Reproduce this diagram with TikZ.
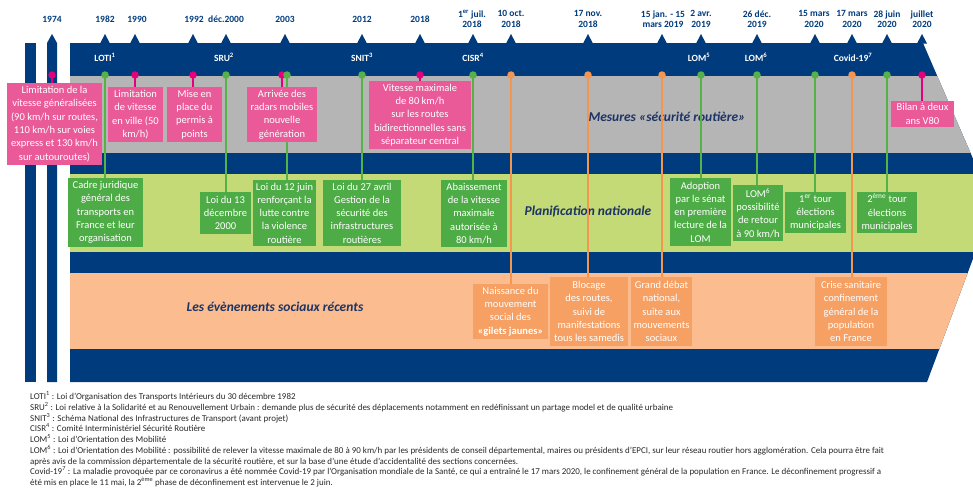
\documentclass[tikz,border=0pt]{standalone}
\usepackage{fontspec}
\setmainfont{Carlito}
\setlength{\lineskiplimit}{-5pt}

\definecolor{navy}{RGB}{0,59,125}
\definecolor{titlenavy}{RGB}{28,52,102}
\definecolor{bandgrey}{RGB}{181,181,181}
\definecolor{bandgreen}{RGB}{196,218,118}
\definecolor{bandorange}{RGB}{251,189,143}
\definecolor{boxpink}{RGB}{234,90,152}
\definecolor{pinpink}{RGB}{228,0,124}
\definecolor{boxgreen}{RGB}{78,172,70}
\definecolor{pingreen}{RGB}{84,178,70}
\definecolor{boxorange}{RGB}{246,160,100}
\definecolor{pinorange}{RGB}{244,150,80}
\definecolor{notegrey}{RGB}{40,40,40}

\tikzset{
  evbox/.style={text=white, align=center, inner xsep=1.5pt, inner ysep=1pt,
    font=\fontsize{10.5}{13.3}\selectfont},
  pinkbox/.style={evbox, fill=boxpink},
  greenbox/.style={evbox, fill=boxgreen},
  orangebox/.style={evbox, fill=boxorange},
  evpin/.style={circle, fill=#1, inner sep=0pt, minimum size=7.5pt},
  link/.style={draw=#1, line width=1.5pt},
  datelbl/.style={text=navy, align=center, font=\fontsize{9.5}{10.5}\selectfont\bfseries},
  bandlbl/.style={text=white, font=\fontsize{9.5}{10}\selectfont\bfseries},
  bandtitle/.style={text=titlenavy, font=\fontsize{13.5}{15}\selectfont\bfseries\itshape},
  notes/.style={align=left, inner sep=0pt, text=notegrey,
    font=\fontsize{8.95}{10.75}\selectfont}
}

\begin{document}
\begin{tikzpicture}[x=1pt,y=-1pt]
  \useasboundingbox (0,0) rectangle (973,490);
  \clip (0,0) rectangle (973,490);
  % left bars
  \fill[navy] (25,43) rectangle (36,382);
  \fill[navy] (47,382) -- (47,43) -- (52,34) -- (57,43) -- (57,382) -- cycle;
  % chevron and its bands
  \fill[navy] (70,43) -- (923,43) -- (993,205) -- (927,382) -- (70,382) -- cycle;
  \begin{scope}
    \clip (70,43) -- (923,43) -- (993,205) -- (927,382) -- (70,382) -- cycle;
    \fill[bandgrey] (70,76) rectangle (1000,153);
    \fill[bandgreen] (70,174) rectangle (1000,252);
    \fill[bandorange] (70,273) rectangle (1000,349);
  \end{scope}
  % date ticks
  \foreach \x in {105,135,193,226,285,362,420,473,511,588,662,701,757,815,852,887,922}
    \fill[navy] (\x-5,43.5) -- (\x,34) -- (\x+5,43.5) -- cycle;
  % dates
  \foreach \x/\d in {52/1974, 105/1982, 137/1990, 194/1992, 226/{déc.2000}, 285/2003,
      362/2012, 420/2018, 472/{1\textsuperscript{er} juil.\\2018}, 511/{10 oct.\\2018},
      588/{17 nov.\\2018}, 663/{15 jan. - 15\\mars 2019}, 701/{2 avr.\\2019},
      757/{26 déc.\\2019}, 814/{15 mars\\2020}, 852/{17 mars\\2020},
      887/{28 juin\\2020}, 922/{juillet\\2020}}
    \node[datelbl] (d\x) at (\x,19) {\d};
  % labels in the navy band
  \foreach \x/\t in {105/LOTI\textsuperscript{1}, 224/SRU\textsuperscript{2},
      362/SNIT\textsuperscript{3}, 473/CISR\textsuperscript{4}, 699/LOM\textsuperscript{5},
      756/LOM\textsuperscript{6}, 853/Covid-19\textsuperscript{7}}
    \node[bandlbl] (l\x) at (\x,57) {\t};
  % band titles
  \node[bandtitle] (tsec) at (667,117) {Mesures «sécurité routière»};
  \node[bandtitle] (tplan) at (588,212) {Planification nationale};
  \node[bandtitle] (tsoc) at (275,307) {Les évènements sociaux récents};

  % pin positions
  \coordinate (t74) at (52,75);
  \coordinate (t90) at (135,75);
  \coordinate (t92) at (193,75);
  \coordinate (t03p) at (282,75);
  \coordinate (t18p) at (420,75);
  \coordinate (t20p) at (922,75);
  \coordinate (t82) at (105,75);
  \coordinate (t00) at (226,75);
  \coordinate (t03g) at (287,75);
  \coordinate (t12) at (362,75);
  \coordinate (t18g) at (473,75);
  \coordinate (t19a) at (701,75);
  \coordinate (t19b) at (757,75);
  \coordinate (t20a) at (815,75);
  \coordinate (t20b) at (887,75);
  \coordinate (t18a) at (511,75);
  \coordinate (t18b) at (588,75);
  \coordinate (t19) at (662,75);
  \coordinate (t20c) at (852,75);

  % planification nationale
  \node[greenbox, minimum width=75pt, minimum height=69pt] (g82) at (105.5,212.5)
    {Cadre juridique\\général des\\transports en\\France et leur\\organisation};
  \node[greenbox, minimum width=51pt, minimum height=42pt] (g00) at (225.5,213)
    {Loi du 13\\décembre\\2000};
  \node[greenbox, minimum width=63pt, minimum height=66pt] (g03) at (284.5,213)
    {Loi du 12 juin\\renforçant la\\lutte contre\\la violence\\routière};
  \node[greenbox, minimum width=78pt, minimum height=66pt] (g12) at (362,213)
    {Loi du 27 avril\\Gestion de la\\sécurité des\\infrastructures\\routières};
  \node[greenbox, minimum width=66pt, minimum height=67pt] (g18) at (474,213.5)
    {Abaissement\\de la vitesse\\maximale\\autorisée à\\80 km/h};
  \node[greenbox, minimum width=61pt, minimum height=68pt] (g19a) at (700.5,212)
    {Adoption\\par le sénat\\en première\\lecture de la\\LOM};
  \node[greenbox, minimum width=50pt, minimum height=56pt] (g19b) at (758,213)
    {LOM\textsuperscript{6}\\possibilité\\de retour\\à 90 km/h};
  \node[greenbox, minimum width=61pt, minimum height=41pt] (g20a) at (815.5,212.5)
    {1\textsuperscript{er} tour\\élections\\municipales};
  \node[greenbox, minimum width=60pt, minimum height=41pt] (g20b) at (887,212.5)
    {2\textsuperscript{ème} tour\\élections\\municipales};

  % evenements sociaux
  \node[orangebox, minimum width=75pt, minimum height=55pt] (o18a) at (510.5,311.5)
    {Naissance du\\mouvement\\social des\\\textbf{«gilets jaunes»}};
  \node[orangebox, minimum width=78pt, minimum height=69pt] (o18b) at (589,311.5)
    {Blocage\\des routes,\\suivi de\\manifestations\\tous les samedis};
  \node[orangebox, minimum width=61pt, minimum height=69pt] (o19) at (661.5,311.5)
    {Grand débat\\national,\\suite aux\\mouvements\\sociaux};
  \node[orangebox, minimum width=72pt, minimum height=69pt] (o20) at (851,311.5)
    {Crise sanitaire\\confinement\\général de la\\population\\en France};

  \draw[link=pingreen] (t82) -- (t82 |- g82.north);
  \draw[link=pingreen] (t00) -- (t00 |- g00.north);
  \draw[link=pingreen] (t03g) -- (t03g |- g03.north);
  \draw[link=pingreen] (t12) -- (t12 |- g12.north);
  \draw[link=pingreen] (t18g) -- (t18g |- g18.north);
  \draw[link=pingreen] (t19a) -- (t19a |- g19a.north);
  \draw[link=pingreen] (t19b) -- (t19b |- g19b.north);
  \draw[link=pingreen] (t20a) -- (t20a |- g20a.north);
  \draw[link=pingreen] (t20b) -- (t20b |- g20b.north);
  \draw[link=pinorange] (t18a) -- (t18a |- o18a.north);
  \draw[link=pinorange] (t18b) -- (t18b |- o18b.north);
  \draw[link=pinorange] (t19) -- (t19 |- o19.north);
  \draw[link=pinorange] (t20c) -- (t20c |- o20.north);

  % securite routiere
  \node[pinkbox, minimum width=95pt, minimum height=82pt] (p74) at (54.5,124)
    {Limitation de la\\vitesse généralisées\\(90 km/h sur routes,\\110 km/h sur voies\\express et 130 km/h\\sur autouroutes)};
  \node[pinkbox, minimum width=55pt, minimum height=55pt] (p90) at (135.5,114.5)
    {Limitation\\de vitesse\\en ville (50\\km/h)};
  \node[pinkbox, minimum width=55pt, minimum height=55pt] (p92) at (194.5,114.5)
    {Mise en\\place du\\permis à\\points};
  \node[pinkbox, minimum width=70pt, minimum height=55pt] (p03) at (282,114.5)
    {Arrivée des\\radars mobiles\\nouvelle\\génération};
  \node[pinkbox, minimum width=102pt, minimum height=68pt] (p18) at (420,115)
    {Vitesse maximale\\de 80 km/h\\sur les routes\\bidirectionnelles sans\\séparateur central};
  \node[pinkbox, minimum width=63pt, minimum height=26pt] (p20) at (922.5,114)
    {Bilan à deux\\ans V80};

  \draw[link=pinpink] (t74) -- (t74 |- p74.north);
  \draw[link=pinpink] (t90) -- (t90 |- p90.north);
  \draw[link=pinpink] (t92) -- (t92 |- p92.north);
  \draw[link=pinpink] (t03p) -- (t03p |- p03.north);
  \draw[link=pinpink] (t18p) -- (t18p |- p18.north);
  \draw[link=pinpink] (t20p) -- (t20p |- p20.north);

  % pins
  \foreach \c in {t74,t90,t92,t03p,t18p,t20p}
    \node[evpin=pinpink] (c\c) at (\c) {};
  \foreach \c in {t82,t00,t03g,t12,t18g,t19a,t19b,t20a,t20b}
    \node[evpin=pingreen] (c\c) at (\c) {};
  \foreach \c in {t18a,t18b,t19,t20c}
    \node[evpin=pinorange] (c\c) at (\c) {};

  % footnotes
  \node[notes, anchor=north west] (notes) at (30,391.5) {%
    LOTI\textsuperscript{1} : Loi d'Organisation des Transports Intérieurs du 30 décembre 1982\\
    SRU\textsuperscript{2} : Loi relative à la Solidarité et au Renouvellement Urbain : demande plus de sécurité des déplacements notamment en redéfinissant un partage model et de qualité urbaine\\
    SNIT\textsuperscript{3} : Schéma National des Infrastructures de Transport (avant projet)\\
    CISR\textsuperscript{4} : Comité Interministériel Sécurité Routière\\
    LOM\textsuperscript{5} : Loi d'Orientation des Mobilité\\
    LOM\textsuperscript{6} : Loi d'Orientation des Mobilité : possibilité de relever la vitesse maximale de 80 à 90 km/h par les présidents de conseil départemental, maires ou présidents d'EPCI, sur leur réseau routier hors agglomération. Cela pourra être fait\\
    après avis de la commission départementale de la sécurité routière, et sur la base d'une étude d'accidentalité des sections concernées.\\
    Covid-19\textsuperscript{7} : La maladie provoquée par ce coronavirus a été nommée Covid-19 par l'Organisation mondiale de la Santé, ce qui a entraîné le 17 mars 2020, le confinement général de la population en France. Le déconfinement progressif a\\
    été mis en place le 11 mai, la 2\textsuperscript{ème} phase de déconfinement est intervenue le 2 juin.};
\end{tikzpicture}
\end{document}
